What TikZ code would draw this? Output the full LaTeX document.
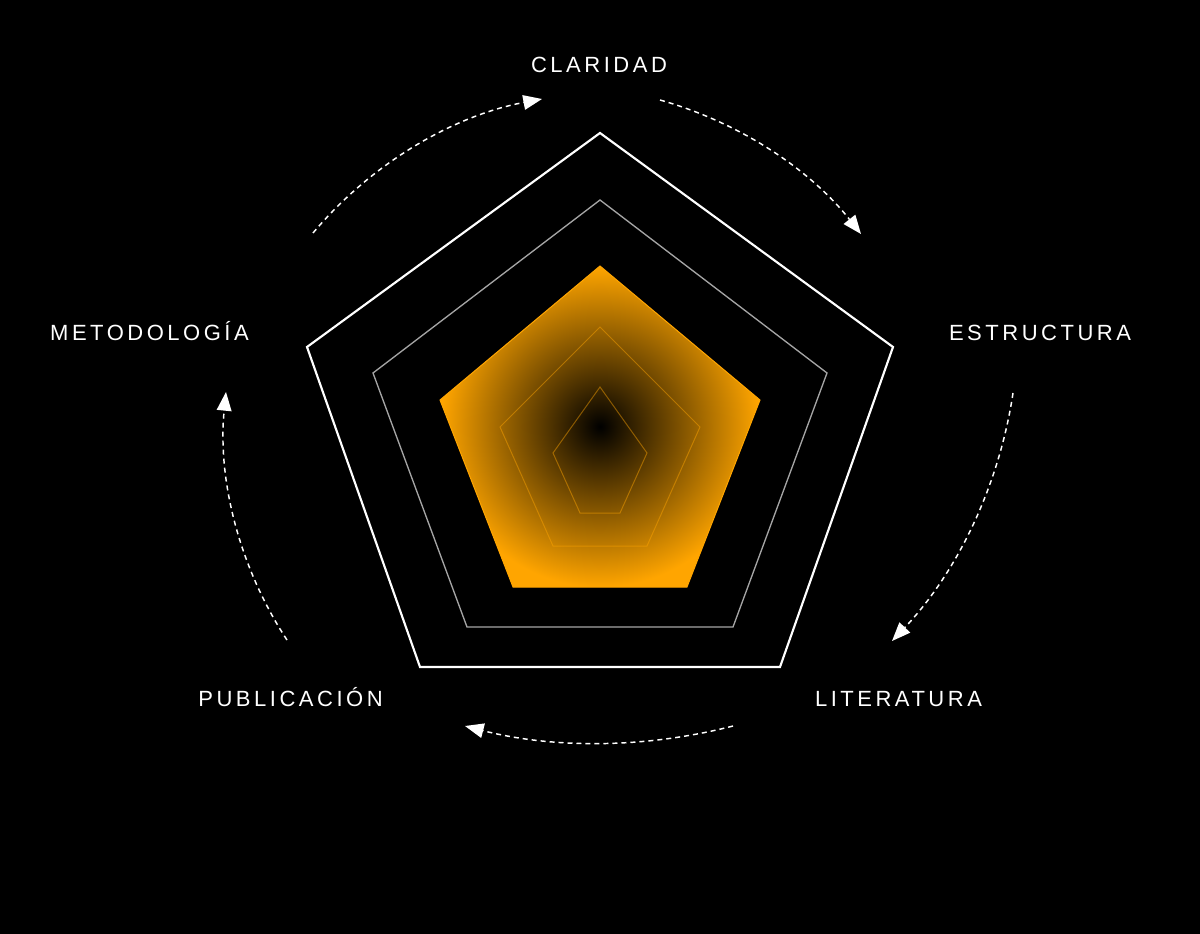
\documentclass[tikz,border=0pt]{standalone}
\usepackage{fontspec}
\usepackage{tikz}
\usetikzlibrary{arrows.meta}
\newfontfamily\labfont[LetterSpace=16]{Liberation Sans}
\definecolor{glowamber}{RGB}{255,165,0}
\definecolor{ringgray}{RGB}{165,165,165}
\pgfdeclareradialshading{glow}{\pgfpoint{0bp}{0bp}}{color(0bp)=(black); color(25bp)=(glowamber); color(50bp)=(glowamber)}

\begin{document}
\begin{tikzpicture}[x=0.75pt,y=0.75pt,yscale=-1,xscale=1,
  axislabel/.style={font=\labfont\fontsize{16.5pt}{20pt}\selectfont, text=white, inner sep=0pt, anchor=base},
  cyclearrow/.style={draw=white, line width=1.1pt, dash pattern=on 3.75pt off 3pt, -{Triangle[length=14pt,width=11pt]}}]
%background, sets the page at 1200 x 934
\fill[black] (0,0) rectangle (1200,934);

%Shape: Polygon [outer ring]
\draw [white, line width=1.6pt, line join=miter] (600,133) -- (893,347) -- (780,667) -- (420,667) -- (307,347) -- cycle ;
%Shape: Polygon [middle ring]
\draw [ringgray, line width=1pt] (600,200) -- (827,373) -- (733,627) -- (467,627) -- (373,373) -- cycle ;
%Shape: Polygon [glow]
\shade [shading=glow, draw=glowamber, line width=0.75pt] (600,266) -- (760,400) -- (687,587) -- (513,587) -- (440,400) -- cycle ;
%Shape: Polygon [inner rings]
\draw [glowamber, draw opacity=0.45, line width=0.75pt] (600,327) -- (700,427) -- (647,546) -- (553,546) -- (500,427) -- cycle ;
\draw [glowamber, draw opacity=0.45, line width=0.75pt] (600,387) -- (647,453) -- (620,513) -- (580,513) -- (553,453) -- cycle ;

% Text Node
\node [axislabel] (claridad) at (599,73) {CLARIDAD};
% Text Node
\node [axislabel] (estructura) at (1040,340) {ESTRUCTURA};
% Text Node
\node [axislabel] (literatura) at (898.5,706) {LITERATURA};
% Text Node
\node [axislabel] (publicacion) at (290.5,706) {PUBLICACIÓN};
% Text Node
\node [axislabel] (metodologia) at (149.5,340) {METODOLOGÍA};

%arrow ends
\coordinate (m2c) at (313,233);  \coordinate (c2m) at (542,99);
\coordinate (c2e) at (660,100);  \coordinate (e2c) at (861,234);
\coordinate (e2l) at (1013,393); \coordinate (l2e) at (892,641);
\coordinate (l2p) at (733,726);  \coordinate (p2l) at (465,726);
\coordinate (p2m) at (287,640);  \coordinate (m2p) at (226,392);

%Curve Lines
\draw [cyclearrow] (m2c) .. controls (371.6,163.3) and (452.6,115.9) .. (c2m) ;
\draw [cyclearrow] (c2e) .. controls (739.5,122.4) and (809.8,169.2) .. (e2c) ;
\draw [cyclearrow] (e2l) .. controls (999.1,486.1) and (956.8,572.7) .. (l2e) ;
\draw [cyclearrow] (l2p) .. controls (645.2,748.7) and (552.8,748.7) .. (p2l) ;
\draw [cyclearrow] (p2m) .. controls (238.9,566.8) and (217.3,479.2) .. (m2p) ;

\end{tikzpicture}
\end{document}
